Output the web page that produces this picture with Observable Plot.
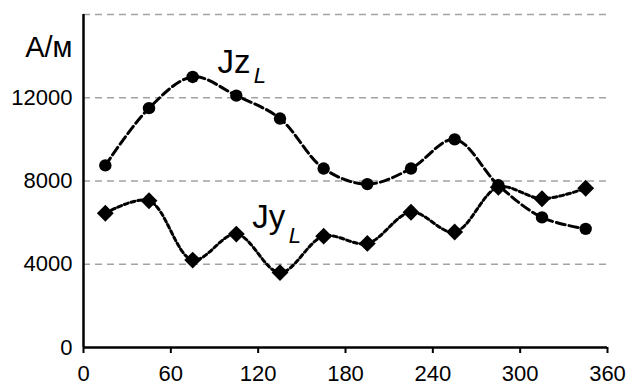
<!DOCTYPE html>
<html>
<head>
<meta charset="utf-8">
<script src="https://cdn.jsdelivr.net/npm/d3@7"></script>
<script src="https://cdn.jsdelivr.net/npm/@observablehq/plot@0.6"></script>
<style>
  html, body { margin: 0; padding: 0; background: white; }
</style>
</head>
<body>
<div id="chart"></div>
<script>
const angles = [15, 45, 75, 105, 135, 165, 195, 225, 255, 285, 315, 345];
const jzValues = [8750, 11500, 13000, 12100, 11000, 8600, 7850, 8600, 10000, 7800, 6250, 5700];
const jyValues = [6450, 7050, 4200, 5450, 3600, 5350, 5000, 6500, 5550, 7700, 7150, 7650];
const xTicks = [0, 60, 120, 180, 240, 300, 360];
const yTicks = [0, 4000, 8000, 12000];
const gridValues = [4000, 8000, 12000, 16000];
const unitLabel = "А/м";
const seriesLabels = [
  {x: 92, y: 13200, main: "Jz", subX: 117, subY: 12685},
  {x: 116, y: 5720, main: "Jy", subX: 141, subY: 5045}
];

const jz = angles.map((a, i) => ({angle: a, value: jzValues[i]}));
const jy = angles.map((a, i) => ({angle: a, value: jyValues[i]}));

const chart = Plot.plot({
  width: 639,
  height: 387,
  marginLeft: 83,
  marginRight: 32,
  marginTop: 14,
  marginBottom: 40,
  x: {domain: [0, 360]},
  y: {domain: [0, 16000]},
  style: {fontFamily: "'Liberation Sans', Arial, sans-serif", background: "white", color: "black"},
  marks: [
    Plot.ruleY(gridValues, {stroke: "#a3a3a3", strokeWidth: 1.5, strokeDasharray: "7,5"}),
    Plot.axisX({ticks: xTicks, tickSize: 6, tickPadding: 12, fontSize: 22, strokeWidth: 2, tickFormat: d => `${d}`, label: null}),
    Plot.axisY({ticks: yTicks, tickSize: 0, tickPadding: 11, fontSize: 22, tickFormat: d => `${d}`, label: null}),
    Plot.line(jz, {x: "angle", y: "value", curve: "catmull-rom", stroke: "black", strokeWidth: 3, strokeDasharray: "9,4"}),
    Plot.line(jy, {x: "angle", y: "value", curve: "catmull-rom", stroke: "black", strokeWidth: 3, strokeDasharray: "4,3"}),
    Plot.dot(jz, {x: "angle", y: "value", r: 6.2, fill: "black", symbol: "circle"}),
    Plot.dot(jy, {x: "angle", y: "value", r: 7.6, fill: "black", symbol: "diamond2"}),
    Plot.ruleX([0], {strokeWidth: 2.5, stroke: "black"}),
    Plot.ruleY([0], {strokeWidth: 2.5, stroke: "black"}),
    Plot.text([unitLabel], {x: () => 0, y: () => 13935, text: d => d, dx: -11, textAnchor: "end", lineAnchor: "bottom", fontSize: 29, fill: "black"}),
    Plot.text(seriesLabels, {x: "x", y: "y", text: "main", textAnchor: "start", lineAnchor: "bottom", fontSize: 33, fill: "black"}),
    Plot.text(seriesLabels, {x: "subX", y: "subY", text: () => "L", textAnchor: "start", lineAnchor: "bottom", fontSize: 22, fontStyle: "italic", fill: "black"})
  ]
});
document.getElementById("chart").appendChild(chart);
</script>
</body>
</html>
